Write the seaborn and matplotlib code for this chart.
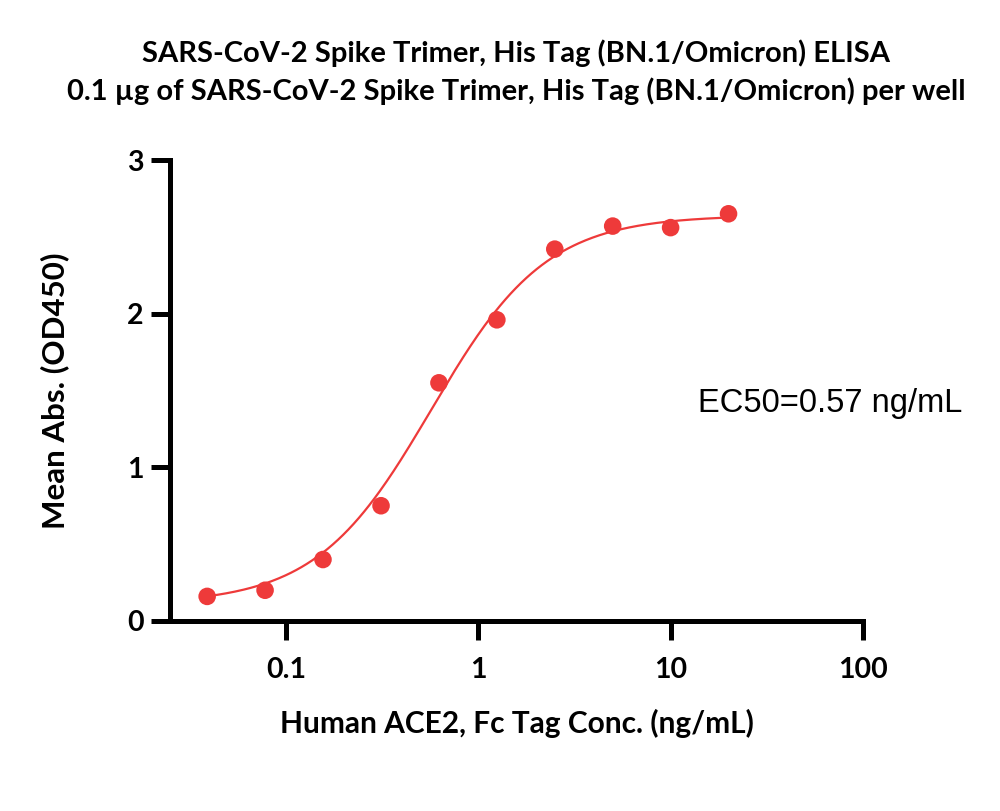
import numpy as np
import pandas as pd
import matplotlib
matplotlib.use("Agg")
import matplotlib.pyplot as plt
import seaborn as sns
from matplotlib.ticker import FixedLocator, FixedFormatter, NullLocator

# ---- data ----
conc = [0.039, 0.078, 0.156, 0.3125, 0.625, 1.25, 2.5, 5, 10, 20]
od450 = [0.16, 0.20, 0.40, 0.75, 1.55, 1.96, 2.42, 2.57, 2.56, 2.65]
# 4PL fit parameters (bottom, top, EC50, Hill)
fit_bottom = 0.11
fit_top = 2.64
fit_ec50 = 0.57
fit_hill = 1.45
x_ticks = [0.1, 1, 10, 100]
x_tick_labels = ["0.1", "1", "10", "100"]
y_ticks = [0, 1, 2, 3]

title = ("SARS-CoV-2 Spike Trimer, His Tag (BN.1/Omicron) ELISA\n"
         "0.1 \u00b5g of SARS-CoV-2 Spike Trimer, His Tag (BN.1/Omicron) per well")
xlabel = "Human ACE2, Fc Tag Conc. (ng/mL)"
ylabel = "Mean Abs. (OD450)"
ec50_text = "EC50=0.57 ng/mL"

sns.set_theme(style="white")
plt.rcParams['font.family'] = ['Lato', 'DejaVu Sans']
plt.rcParams['text.color'] = 'black'
plt.rcParams['axes.labelcolor'] = 'black'
plt.rcParams['xtick.color'] = 'black'
plt.rcParams['ytick.color'] = 'black'

red = "#EE3A3A"

fig = plt.figure(figsize=(10, 8.11), dpi=100)
ax = fig.add_axes([0.170, 0.2343, 0.693, 0.5684])

df = pd.DataFrame({"conc": conc, "od": od450})
xs = np.logspace(np.log10(min(conc)), np.log10(max(conc)), 300)
ys = fit_bottom + (fit_top - fit_bottom) / (1 + (fit_ec50 / xs) ** fit_hill)
fit_df = pd.DataFrame({"x": xs, "y": ys})

sns.lineplot(data=fit_df, x="x", y="y", ax=ax, color=red, linewidth=1.6)
sns.scatterplot(data=df, x="conc", y="od", ax=ax, color=red, s=160,
                edgecolor="none", zorder=3)

ax.set_xscale("log")
ax.set_xlim(0.025, 100)
ax.set_ylim(0, 3)
ax.xaxis.set_major_locator(FixedLocator(x_ticks))
ax.xaxis.set_major_formatter(FixedFormatter(x_tick_labels))
ax.xaxis.set_minor_locator(NullLocator())
ax.set_yticks(y_ticks)

for s in ["top", "right"]:
    ax.spines[s].set_visible(False)
for s in ["left", "bottom"]:
    ax.spines[s].set_linewidth(3.6)
    ax.spines[s].set_color("black")
ax.tick_params(axis="both", which="major", direction="out", length=14,
               width=3.6, color="black", labelcolor="black", labelsize=20.5,
               bottom=True, left=True)
ax.tick_params(axis="x", pad=12)
ax.tick_params(axis="y", pad=5)
for lab in ax.get_xticklabels() + ax.get_yticklabels():
    lab.set_fontweight("bold")

ax.set_xlabel(xlabel, fontsize=21.5, fontweight="bold")
ax.set_ylabel(ylabel, fontsize=22.5, fontweight="bold")
ax.xaxis.label.set_va("center")
ax.yaxis.label.set_va("center")
ax.xaxis.set_label_coords(0.5, -0.223)
ax.yaxis.set_label_coords(-0.167, 0.5)

fig.text(0.5165, 0.911, title, ha="center", va="center", fontsize=21,
         fontweight="bold", linespacing=1.48)
fig.text(0.83, 0.503, ec50_text, ha="center", va="center", fontsize=23.5,
         family=["Liberation Sans", "DejaVu Sans"])

fig.savefig("out.png", dpi=100)
